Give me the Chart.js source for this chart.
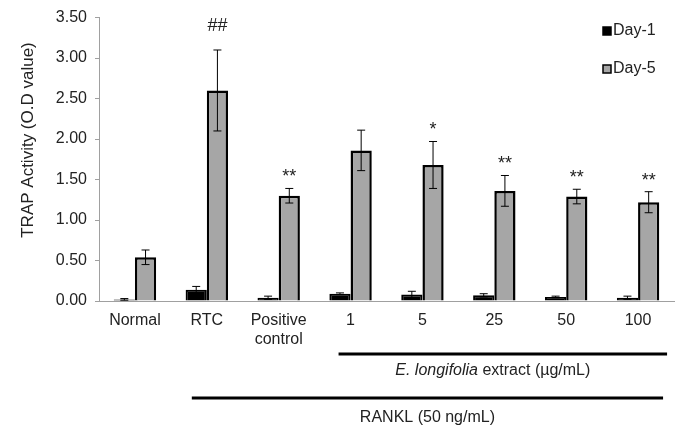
<!DOCTYPE html>
<html>
<head>
<meta charset="utf-8">
<script src="https://cdn.jsdelivr.net/npm/chart.js@4"></script>
<style>
  html, body { margin: 0; padding: 0; background: #fff; }
  #wrap { width: 681px; height: 430px; }
</style>
</head>
<body>
<div id="wrap"><canvas id="myChart" width="681" height="430"></canvas></div>
<script>
var categorias = ['Normal', 'RTC', ['Positive', 'control'], '1', '5', '25', '50', '100'];
var dia1 = [0.02, 0.14, 0.04, 0.09, 0.08, 0.07, 0.05, 0.04];
var dia1Err = [0.01, 0.04, 0.02, 0.01, 0.04, 0.02, 0.01, 0.02];
var dia5 = [0.54, 2.60, 1.30, 1.86, 1.68, 1.36, 1.29, 1.22];
var dia5Err = [0.09, 0.50, 0.09, 0.25, 0.29, 0.19, 0.09, 0.13];
var signos = ['', '##', '**', '', '*', '**', '**', '**'];
var yTicks = [0, 0.5, 1, 1.5, 2, 2.5, 3, 3.5];

var fuente = '"Liberation Sans", Arial, sans-serif';

// error bars, significance marks, legend and the group brackets
var extras = {
    id: 'extras',
    afterDatasetsDraw: function (chart) {
        var c = chart.ctx;
        var y = chart.scales.y;
        var series = [[dia1, dia1Err], [dia5, dia5Err]];
        c.save();
        c.strokeStyle = '#000';
        c.lineWidth = 1;
        series.forEach(function (s, i) {
            var meta = chart.getDatasetMeta(i);
            meta.data.forEach(function (bar, j) {
                var top = y.getPixelForValue(s[0][j] + s[1][j]);
                var bot = y.getPixelForValue(s[0][j] - s[1][j]);
                c.beginPath();
                c.moveTo(bar.x, top); c.lineTo(bar.x, bot);
                c.moveTo(bar.x - 4, top); c.lineTo(bar.x + 4, top);
                c.moveTo(bar.x - 4, bot); c.lineTo(bar.x + 4, bot);
                c.stroke();
            });
        });
        // significance marks over Day-5
        var meta5 = chart.getDatasetMeta(1);
        c.fillStyle = '#222';
        c.textAlign = 'center';
        c.textBaseline = 'middle';
        signos.forEach(function (t, j) {
            if (!t) return;
            var top = y.getPixelForValue(dia5[j] + dia5Err[j]);
            var esHash = t.charAt(0) == '#';
            c.font = '18px ' + fuente;
            c.fillText(t, meta5.data[j].x, top - (esHash ? 24 : 11));
        });
        c.restore();
    },
    afterDraw: function (chart) {
        var c = chart.ctx;
        var x = chart.scales.x;
        c.save();
        // y title
        c.font = '17px ' + fuente;
        c.fillStyle = '#222';
        c.textAlign = 'center';
        c.textBaseline = 'middle';
        c.translate(28, 140);
        c.rotate(-Math.PI / 2);
        c.fillText('TRAP Activity (O.D value)', 0, 0);
        c.restore();

        c.save();
        // legend
        var items = chart.data.datasets;
        items.forEach(function (d, i) {
            var ly = 31 + i * 38;
            c.fillStyle = d.backgroundColor;
            c.fillRect(603, ly - 4, 8, 8);
            c.strokeStyle = '#000';
            c.lineWidth = 1.5;
            c.strokeRect(603, ly - 4, 8, 8);
            c.fillStyle = '#222';
            c.font = '16px ' + fuente;
            c.textAlign = 'left';
            c.textBaseline = 'middle';
            c.fillText(d.label, 613, ly);
        });

        // brackets under the axis
        c.strokeStyle = '#000';
        c.lineWidth = 3;
        var l1a = x.getPixelForValue(3) - 12, l1b = x.getPixelForValue(7) + 29;
        var l2a = x.getPixelForValue(1) - 15, l2b = x.getPixelForValue(7) + 25;
        c.beginPath();
        c.moveTo(l1a, 354); c.lineTo(l1b, 354);
        c.moveTo(l2a, 398); c.lineTo(l2b, 398);
        c.stroke();

        c.fillStyle = '#222';
        c.textBaseline = 'middle';
        c.textAlign = 'left';
        var t1 = 'E. longifolia', t2 = ' extract (\u00b5g/mL)';
        c.font = 'italic 16px ' + fuente;
        var w1 = c.measureText(t1).width;
        c.font = '16px ' + fuente;
        var w2 = c.measureText(t2).width;
        var sx = (l1a + l1b) / 2 - 10 - (w1 + w2) / 2;
        c.font = 'italic 16px ' + fuente;
        c.fillText(t1, sx, 371);
        c.font = '16px ' + fuente;
        c.fillText(t2, sx + w1, 371);
        c.textAlign = 'center';
        c.fillText('RANKL (50 ng/mL)', (l2a + l2b) / 2, 418);
        c.restore();
    }
};

const ctx = document.getElementById('myChart');
new Chart(ctx, {
    type: 'bar',
    data: {
        labels: categorias,
        datasets: [{
            label: 'Day-1',
            data: dia1,
            backgroundColor: '#000000',
            borderColor: '#000000',
            borderWidth: 2
        }, {
            label: 'Day-5',
            data: dia5,
            backgroundColor: '#a6a6a6',
            borderColor: '#000000',
            borderWidth: 2.5
        }]
    },
    options: {
        responsive: false,
        animation: false,
        layout: { padding: { top: 16, right: 7, left: 0, bottom: 0 } },
        categoryPercentage: 0.59,
        barPercentage: 1,
        plugins: {
            legend: { display: false },
            tooltip: { enabled: false }
        },
        scales: {
            x: {
                grid: { display: false, drawTicks: false },
                border: { color: '#a0a0a0', width: 1 },
                ticks: {
                    color: '#222',
                    padding: 10,
                    maxRotation: 0,
                    autoSkip: false,
                    font: { family: fuente, size: 16, lineHeight: 1.2 }
                },
                afterFit: function (s) { s.height = 129; }
            },
            y: {
                min: 0,
                max: 3.5,
                afterBuildTicks: function (s) {
                    s.ticks = yTicks.map(function (v) { return { value: v }; });
                },
                grid: { drawOnChartArea: false, tickLength: 4, color: '#a0a0a0' },
                border: { color: '#a0a0a0', width: 1 },
                ticks: {
                    color: '#222',
                    padding: 8,
                    font: { family: fuente, size: 16 },
                    callback: function (v) { return Number(v).toFixed(2); }
                },
                afterFit: function (s) { s.width = 99; }
            }
        }
    },
    plugins: [extras]
});
</script>
</body>
</html>
